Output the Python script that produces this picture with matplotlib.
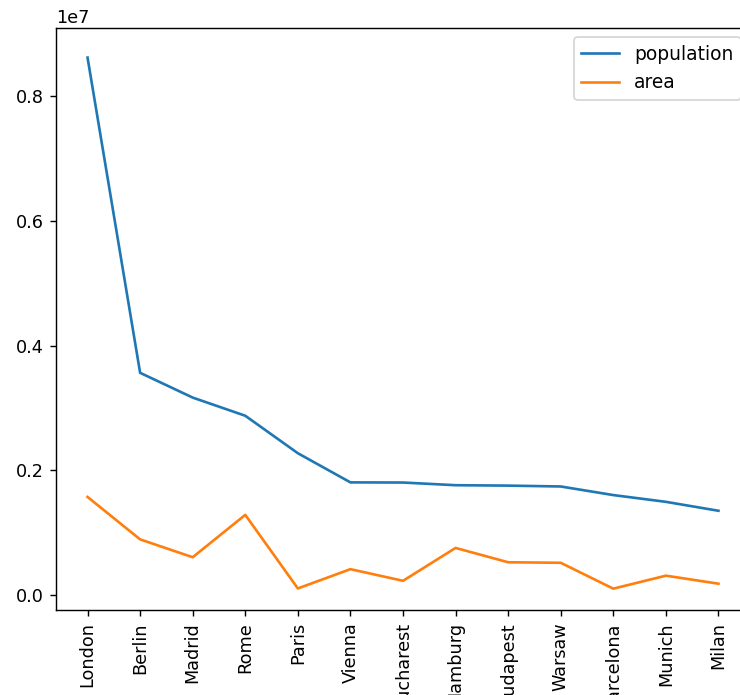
import matplotlib
matplotlib.use("Agg")
import matplotlib.pyplot as plt

# cities, population and area (km2 x 1000)
cities = ['London', 'Berlin', 'Madrid', 'Rome', 'Paris', 'Vienna', 'Bucharest',
          'Hamburg', 'Budapest', 'Warsaw', 'Barcelona', 'Munich', 'Milan']
population = [8615246, 3562166, 3165235, 2874038, 2273305, 1805681, 1803425,
              1760433, 1754000, 1740119, 1602386, 1493900, 1350680]
area = [1572000, 891850, 605770, 1285000, 105400, 414600, 228000,
        755000, 525200, 517000, 101900, 310400, 181800]

dpi = 127
fig = plt.figure(figsize=(740 / dpi, 695 / dpi), dpi=dpi)
# axes runs slightly past the right edge, like the cropped original
ax = fig.add_axes([56 / 740, 85 / 695, 694 / 740, 582 / 695])

ax.plot(cities, population, label='population')
ax.plot(cities, area, label='area')
ax.set_ylim(-0.024e7, 0.909e7)
ax.yaxis.get_major_formatter().set_powerlimits((7, 7))  # 0.0 ... 0.8 with 1e7
ax.tick_params(axis='x', labelrotation=90)
ax.legend(loc='upper right', fontsize=10.6)

fig.savefig('out.png', dpi=dpi)
